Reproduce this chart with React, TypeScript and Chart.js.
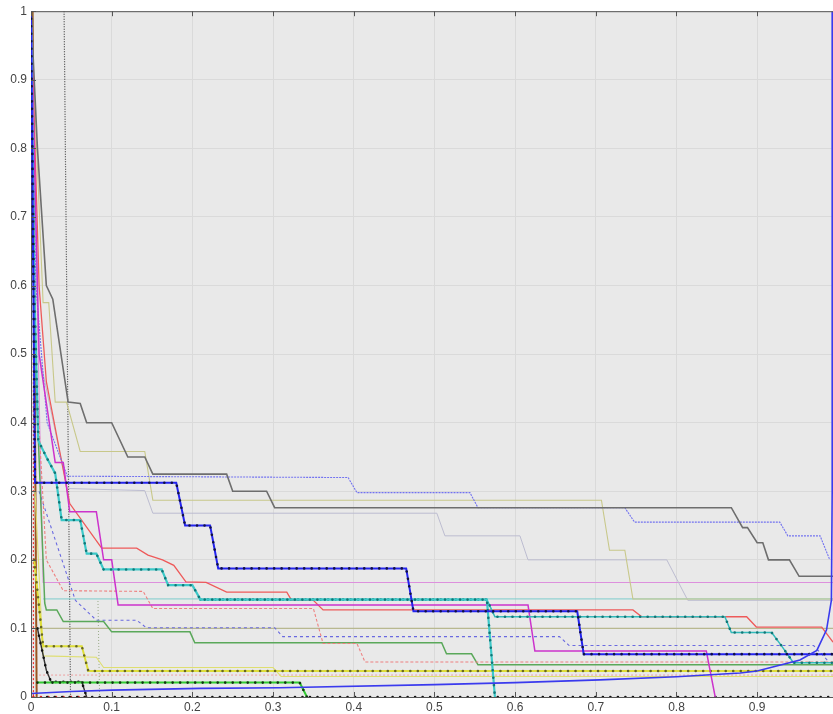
import React, { useEffect, useRef } from "react";
import { Chart, registerables } from "chart.js";
Chart.register(...registerables);

type P = [number, number];

const X_MAX = 0.994;
const xTicks = [0, 0.1, 0.2, 0.3, 0.4, 0.5, 0.6, 0.7, 0.8, 0.9];
const yTicks = [0, 0.1, 0.2, 0.3, 0.4, 0.5, 0.6, 0.7, 0.8, 0.9, 1];

const grayStep: P[] = [[0, 1], [0.008, 0.8], [0.019, 0.6], [0.027, 0.58], [0.046, 0.43], [0.061, 0.428], [0.069, 0.4], [0.1, 0.4], [0.12, 0.35], [0.141, 0.35], [0.151, 0.325], [0.2425, 0.325], [0.25, 0.3], [0.292, 0.3], [0.302, 0.276], [0.868, 0.276], [0.882, 0.247], [0.888, 0.247], [0.9, 0.225], [0.907, 0.225], [0.914, 0.2], [0.94, 0.2], [0.952, 0.176], [0.994, 0.176]];
const blueThin: P[] = [[0, 1], [0.006, 0.6], [0.02, 0.4], [0.045, 0.322], [0.393, 0.32], [0.404, 0.298], [0.544, 0.298], [0.554, 0.276], [0.736, 0.276], [0.748, 0.255], [0.928, 0.255], [0.938, 0.235], [0.978, 0.235], [0.99, 0.2]];
const blueThick: P[] = [[0, 1], [0.005, 0.3125], [0.18, 0.3125], [0.191, 0.25], [0.222, 0.25], [0.232, 0.1875], [0.465, 0.1875], [0.474, 0.125], [0.677, 0.125], [0.685, 0.0625], [0.994, 0.0625]];
const cyanStep: P[] = [[0, 1], [0.004, 0.6], [0.009, 0.374], [0.019, 0.35], [0.03, 0.326], [0.038, 0.258], [0.061, 0.258], [0.069, 0.209], [0.081, 0.209], [0.09, 0.186], [0.162, 0.186], [0.17, 0.163], [0.2, 0.163], [0.21, 0.142], [0.565, 0.142], [0.575, 0]];
const cyanStep2: P[] = [[0.21, 0.142], [0.565, 0.142], [0.575, 0.117], [0.86, 0.117], [0.868, 0.094], [0.918, 0.094], [0.93, 0.075], [0.945, 0.05], [0.994, 0.05]];
const magentaStep: P[] = [[0, 1], [0.01, 0.5], [0.03, 0.342], [0.04, 0.342], [0.048, 0.27], [0.081, 0.27], [0.09, 0.2], [0.1, 0.2], [0.108, 0.134], [0.616, 0.134], [0.6245, 0.067], [0.837, 0.067], [0.848, 0]];
const magentaThin: P[] = [[0, 1], [0.015, 0.167], [0.994, 0.167]];
const redStep: P[] = [[0, 1], [0.01, 0.6], [0.019, 0.46], [0.048, 0.282], [0.0876, 0.217], [0.131, 0.217], [0.145, 0.207], [0.163, 0.2], [0.177, 0.192], [0.192, 0.168], [0.217, 0.167], [0.2425, 0.153], [0.317, 0.153], [0.323, 0.141], [0.35, 0.141], [0.362, 0.127], [0.746, 0.127], [0.757, 0.117], [0.887, 0.117], [0.899, 0.102], [0.98, 0.102], [0.994, 0.08]];
const redDashed: P[] = [[0, 1], [0.005, 0.5], [0.019, 0.2], [0.04, 0.155], [0.139, 0.154], [0.151, 0.129], [0.35, 0.129], [0.362, 0.078], [0.404, 0.078], [0.414, 0.051], [0.994, 0.051]];
const greenStep: P[] = [[0, 1], [0.005, 0.5], [0.017, 0.137], [0.019, 0.127], [0.032, 0.127], [0.04, 0.11], [0.09, 0.11], [0.1, 0.095], [0.197, 0.095], [0.203, 0.079], [0.509, 0.079], [0.515, 0.063], [0.546, 0.063], [0.554, 0.047], [0.994, 0.047]];
const oliveStep: P[] = [[0, 1], [0.015, 0.575], [0.022, 0.575], [0.03, 0.43], [0.044, 0.43], [0.061, 0.358], [0.141, 0.358], [0.151, 0.287], [0.707, 0.287], [0.717, 0.214], [0.736, 0.214], [0.746, 0.143], [0.994, 0.143]];
const lightGrayStep: P[] = [[0, 1], [0.01, 0.5], [0.045, 0.304], [0.141, 0.301], [0.151, 0.268], [0.503, 0.268], [0.513, 0.235], [0.606, 0.235], [0.616, 0.2], [0.788, 0.2], [0.814, 0.141], [0.994, 0.141]];
const yellowDots: P[] = [[0.004, 0.2], [0.015, 0.074], [0.063, 0.074], [0.071, 0.038], [0.994, 0.038]];
const greenDots: P[] = [[0.008, 0.021], [0.333, 0.021], [0.342, 0]];
const blackSeg: P[] = [[0.008, 0.1], [0.019, 0.039], [0.025, 0.022], [0.063, 0.022], [0.069, 0]];
const blackBottom: P[] = [[0.02, 0], [0.994, 0]];
const redBottom: P[] = [[0.003, 0], [0.07, 0]];
const blueCurve: P[] = [[0, 0.005], [0.05, 0.008], [0.1, 0.01], [0.21, 0.0126], [0.308, 0.0135], [0.5, 0.018], [0.6, 0.021], [0.705, 0.025], [0.8, 0.0295], [0.879, 0.035], [0.9, 0.038], [0.953, 0.054], [0.974, 0.068], [0.986, 0.098], [0.992, 0.141], [0.993, 0.3], [0.993, 1]];
const blueDashed: P[] = [[0.01, 0.3], [0.055, 0.141], [0.081, 0.112], [0.131, 0.112], [0.143, 0.101], [0.302, 0.101], [0.312, 0.088], [0.655, 0.088], [0.667, 0.075], [0.97, 0.075], [0.99, 0.05]];
const khakiFlat: P[] = [[0.002, 0.1], [0.994, 0.1]];
const tealFlat: P[] = [[0.015, 0.143], [0.994, 0.143]];
const yellowSolid: P[] = [[0.005, 0.3], [0.015, 0.06], [0.081, 0.058], [0.09, 0.043], [0.3, 0.043], [0.31, 0.03], [0.994, 0.03]];
const pinkFlat: P[] = [[0.01, 0.032], [0.994, 0.032]];
const blackVert: P[] = [[0.041, 1], [0.049, 0]];
const brownVert: P[] = [[0.002, 1], [0.007, 0]];
const redVert: P[] = [[0.003, 0.5], [0.003, 0]];
const greenVert: P[] = [[0.083, 0.14], [0.085, 0]];

function line(pts: P[], color: string, width: number, dash: number[] = []) {
  return {
    data: pts.map(([x, y]) => ({ x, y })),
    borderColor: color,
    borderWidth: width,
    borderDash: dash,
    pointRadius: 0,
    tension: 0,
    fill: false,
  };
}
function dots(pts: P[], color: string) {
  return {
    data: pts.map(([x, y]) => ({ x, y })),
    borderColor: color,
    borderWidth: 2.6,
    borderDash: [0.01, 7.5],
    borderCapStyle: "round" as const,
    pointRadius: 0,
    tension: 0,
    fill: false,
  };
}

const framePlugin = {
  id: "frame",
  beforeDraw(chart: any) {
    const { ctx, chartArea: a } = chart;
    ctx.save();
    ctx.fillStyle = "#e9e9e9";
    ctx.fillRect(a.left, a.top, a.right - a.left, a.bottom - a.top);
    ctx.restore();
  },
  afterDatasetsDraw(chart: any) {
    const { ctx, chartArea: a, scales } = chart;
    ctx.save();
    ctx.strokeStyle = "#555";
    ctx.lineWidth = 1;
    ctx.beginPath();
    ctx.moveTo(a.left, a.top + 0.5);
    ctx.lineTo(a.right, a.top + 0.5);
    for (const t of xTicks) {
      const px = Math.round(scales.x.getPixelForValue(t)) + 0.5;
      ctx.moveTo(px, a.bottom);
      ctx.lineTo(px, a.bottom - 5);
      ctx.moveTo(px, a.top);
      ctx.lineTo(px, a.top + 5);
    }
    for (const t of yTicks) {
      const py = Math.round(scales.y.getPixelForValue(t)) + 0.5;
      ctx.moveTo(a.left, py);
      ctx.lineTo(a.left + 5, py);
    }
    ctx.stroke();
    ctx.restore();
  },
};

export default function App() {
  const ref = useRef<HTMLCanvasElement | null>(null);
  useEffect(() => {
    document.body.style.margin = "0";
    const datasets: any[] = [
      line(blueCurve, "#3a3aee", 1.6),
      dots(blueThick, "#111144"),
      line(blueThick, "#2424ee", 2),
      dots(cyanStep, "#117777"),
      line(cyanStep, "#3cc8c8", 2.2),
      dots(cyanStep2, "#117777"),
      line(cyanStep2, "#33bbbb", 1.5),
      line(magentaStep, "#cc33cc", 1.5),
      line(grayStep, "#6e6e6e", 1.6),
      line(blueThin, "#7272f0", 1.1, [2, 1]),
      line(redStep, "#ee5a5a", 1.3),
      line(redDashed, "#ee8080", 1.1, [3, 2]),
      line(greenStep, "#5aa85a", 1.5),
      line(oliveStep, "#c8c88a", 1.1),
      line(lightGrayStep, "#bcbcd0", 1),
      dots(yellowDots, "#666622"),
      line(yellowDots, "#dede3a", 2),
      dots(greenDots, "#113311"),
      line(greenDots, "#33cc33", 2),
      dots(blackSeg, "#111111"),
      line(blackSeg, "#333333", 1.4),
      dots(blackBottom, "#111111"),
      dots(redBottom, "#dd2222"),
      line(blueDashed, "#6a6ae0", 1.1, [3, 3]),
      line(khakiFlat, "#b8b890", 1.1),
      line(tealFlat, "#7ccccc", 1),
      line(yellowSolid, "#dede70", 1.1),
      line(pinkFlat, "#eea0a0", 1, [2, 2]),
      line(magentaThin, "#dd90dd", 1.1),
      line(blackVert, "#444444", 1.2, [1, 1.5]),
      line(brownVert, "#995522", 2),
      line(redVert, "#ee3333", 1.2, [2, 2]),
      line(greenVert, "#99aa88", 1, [1, 2]),
    ];
    const font = { family: "'Liberation Sans', Arial, sans-serif", size: 12 };
    const chart = new Chart(ref.current as HTMLCanvasElement, {
      type: "line",
      data: { datasets },
      plugins: [framePlugin],
      options: {
        animation: false,
        responsive: false,
        layout: { padding: { top: 10, right: 0, left: 0, bottom: 0 } },
        plugins: { legend: { display: false }, tooltip: { enabled: false } },
        scales: {
          x: {
            type: "linear",
            min: 0,
            max: X_MAX,
            afterBuildTicks: (s: any) => { s.ticks = xTicks.map((v) => ({ value: v })); },
            afterFit: (s: any) => { s.height = 17; },
            ticks: {
              autoSkip: false,
              maxRotation: 0,
              padding: 3,
              color: "#444",
              font,
              callback: (v: any) => String(Math.round(Number(v) * 10) / 10),
            },
            grid: { color: "#dadada", drawTicks: false },
            border: { display: true, color: "#555" },
          },
          y: {
            type: "linear",
            min: 0,
            max: 1,
            afterBuildTicks: (s: any) => { s.ticks = yTicks.map((v) => ({ value: v })); },
            afterFit: (s: any) => { s.width = 31; },
            ticks: {
              padding: 4,
              color: "#444",
              font,
              callback: (v: any) => String(Math.round(Number(v) * 10) / 10),
            },
            grid: { color: "#dadada", drawTicks: false },
            border: { display: true, color: "#555" },
          },
        },
      },
    });
    return () => chart.destroy();
  }, []);
  return (
    <div style={{ position: "absolute", left: 0, top: 0, width: 833, height: 714 }}>
      <canvas ref={ref} width={833} height={714} style={{ display: "block" }} />
    </div>
  );
}
